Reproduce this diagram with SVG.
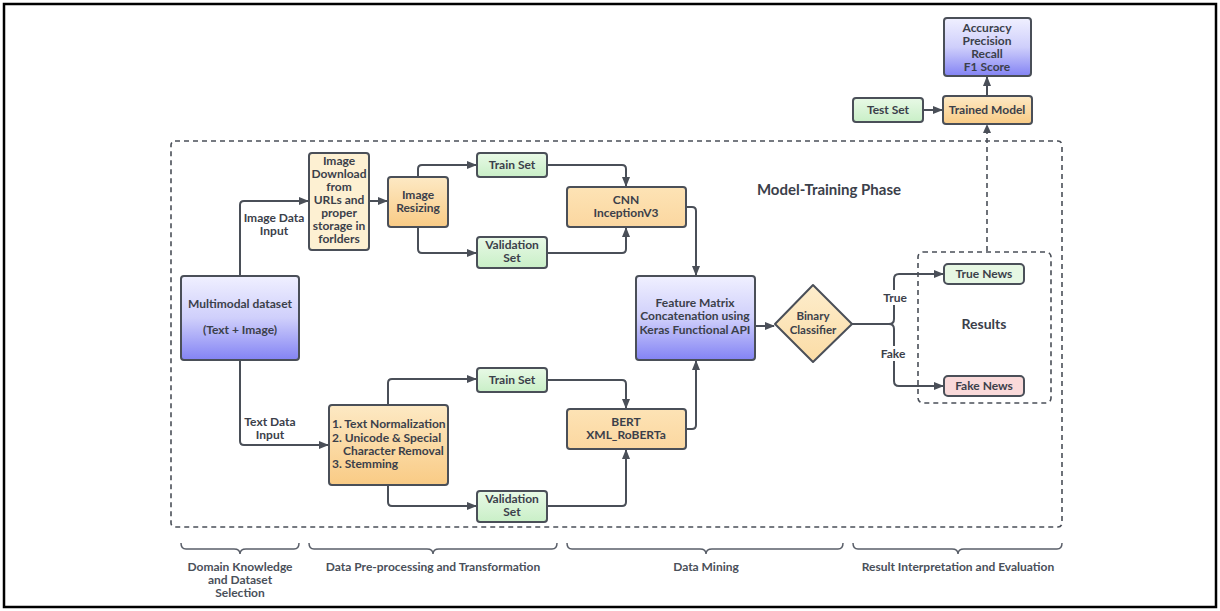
<svg xmlns="http://www.w3.org/2000/svg" width="1220" height="611" viewBox="0 0 1220 611">
<defs>
<style>
text{font-family:Lato,"Liberation Sans",sans-serif;font-weight:bold;font-size:12px;fill:#3b404a;text-anchor:middle}
.box{stroke:#4a4f58;stroke-width:2}
.ln{fill:none;stroke:#4a4f58;stroke-width:2}
.dash{fill:none;stroke:#4a4f58;stroke-width:1.6;stroke-dasharray:5 4}
.brace{fill:none;stroke:#5a5f69;stroke-width:1.5}
.lbl{fill:#4a505a}
</style>
<marker id="ah" viewBox="0 0 10 10" refX="9" refY="5" markerWidth="5" markerHeight="5" orient="auto" markerUnits="strokeWidth">
<path d="M0,1 L10,5 L0,9 z" fill="#4a4f58"/>
</marker>
<linearGradient id="gPurple" x1="0" y1="0" x2="0" y2="1"><stop offset="0" stop-color="#f0f0ff"/><stop offset="0.5" stop-color="#cfcffb"/><stop offset="1" stop-color="#8383f4"/></linearGradient>
<linearGradient id="gOrange" x1="0" y1="0" x2="0" y2="1"><stop offset="0" stop-color="#fde9c4"/><stop offset="1" stop-color="#f9cb85"/></linearGradient>
<linearGradient id="gOrange2" x1="0" y1="0" x2="0" y2="1"><stop offset="0" stop-color="#fde3b5"/><stop offset="1" stop-color="#fbd7a0"/></linearGradient>
<linearGradient id="gGreen" x1="0" y1="0" x2="0" y2="1"><stop offset="0" stop-color="#e8f9e6"/><stop offset="1" stop-color="#c9efc7"/></linearGradient>
<linearGradient id="gDiamond" x1="0" y1="0" x2="0" y2="1"><stop offset="0" stop-color="#fdedcc"/><stop offset="1" stop-color="#fbdca6"/></linearGradient>
</defs>
<rect x="0" y="0" width="1220" height="611" fill="#ffffff"/>
<rect x="4" y="4" width="1212" height="603" fill="none" stroke="#000" stroke-width="2.5"/>

<!-- phase frame -->
<rect x="171" y="141" width="891" height="386" rx="4" class="dash"/>
<text x="829" y="195" style="font-size:15px">Model-Training Phase</text>

<!-- results frame -->
<rect x="918" y="252" width="133" height="151" rx="5" class="dash"/>

<g id="connectors">
<path class="ln" d="M240,276 V205 Q240,201 244,201 H308" marker-end="url(#ah)"/>
<path class="ln" d="M369,201 H387" marker-end="url(#ah)"/>
<path class="ln" d="M418,177 V169 Q418,165 422,165 H476" marker-end="url(#ah)"/>
<path class="ln" d="M418,227 V249 Q418,253 422,253 H476" marker-end="url(#ah)"/>
<path class="ln" d="M547,165 H622 Q626,165 626,169 V186" marker-end="url(#ah)"/>
<path class="ln" d="M547,253 H622 Q626,253 626,249 V228" marker-end="url(#ah)"/>
<path class="ln" d="M686,207 H692 Q696,207 696,211 V275" marker-end="url(#ah)"/>
<path class="ln" d="M240,360 V441 Q240,445 244,445 H328" marker-end="url(#ah)"/>
<path class="ln" d="M388,405 V383 Q388,379 392,379 H476" marker-end="url(#ah)"/>
<path class="ln" d="M388,485 V502 Q388,506 392,506 H476" marker-end="url(#ah)"/>
<path class="ln" d="M547,380 H622 Q626,380 626,384 V408" marker-end="url(#ah)"/>
<path class="ln" d="M547,506 H622 Q626,506 626,502 V450" marker-end="url(#ah)"/>
<path class="ln" d="M686,429 H692 Q696,429 696,425 V361" marker-end="url(#ah)"/>
<path class="ln" d="M755,326 H774" marker-end="url(#ah)"/>
<path class="ln" d="M852,324 H889 Q894,324 894,319 V279 Q894,274 899,274 H943" marker-end="url(#ah)"/>
<path class="ln" d="M889,324 Q894,324 894,329 V381 Q894,386 899,386 H943" marker-end="url(#ah)"/>
<path class="ln" d="M923,110 H942" marker-end="url(#ah)"/>
<path class="ln" d="M987,96 V77" marker-end="url(#ah)"/>
<path class="dash" d="M987,251 V127"/>
<path d="M983,133 L987,124 L991,133 z" fill="#4a4f58"/>
<rect x="880" y="290" width="30" height="15" fill="#fff"/>
<text x="895" y="302">True</text>
<rect x="878" y="346" width="32" height="15" fill="#fff"/>
<text x="893" y="358">Fake</text>
<text x="274" y="222">Image Data</text>
<text x="274" y="235">Input</text>
<text x="270" y="426">Text Data</text>
<text x="270" y="439">Input</text>
</g>

<g id="n-multimodal">
<rect x="181" y="276" width="118" height="84" rx="3" class="box" fill="url(#gPurple)"/>
<text x="240" y="308">Multimodal dataset</text>
<text x="240" y="334">(Text + Image)</text>
</g>
<g id="n-download">
<rect x="309" y="153" width="60" height="97" rx="3" class="box" fill="#fdf0d2"/>
<text x="339" y="165">Image</text>
<text x="339" y="178">Download</text>
<text x="339" y="191">from</text>
<text x="339" y="204">URLs and</text>
<text x="339" y="217">proper</text>
<text x="339" y="230">storage in</text>
<text x="339" y="243">forlders</text>
</g>
<g id="n-resize">
<rect x="388" y="177" width="60" height="50" rx="3" class="box" fill="url(#gOrange)"/>
<text x="418" y="199">Image</text>
<text x="418" y="212">Resizing</text>
</g>
<g id="n-train1">
<rect x="477" y="153" width="70" height="24" rx="3" class="box" fill="url(#gGreen)"/>
<text x="512" y="169">Train Set</text>
</g>
<g id="n-val1">
<rect x="477" y="237" width="70" height="31" rx="3" class="box" fill="url(#gGreen)"/>
<text x="512" y="249">Validation</text>
<text x="512" y="262">Set</text>
</g>
<g id="n-cnn">
<rect x="567" y="187" width="119" height="40" rx="3" class="box" fill="url(#gOrange2)"/>
<text x="626" y="204">CNN</text>
<text x="626" y="217">InceptionV3</text>
</g>
<g id="n-textproc">
<rect x="329" y="405" width="119" height="80" rx="3" class="box" fill="url(#gOrange)"/>
<text x="332" y="428" style="text-anchor:start">1. Text Normalization</text>
<text x="332" y="442" style="text-anchor:start">2. Unicode &amp; Special</text>
<text x="343" y="455" style="text-anchor:start">Character Removal</text>
<text x="332" y="468" style="text-anchor:start">3. Stemming</text>
</g>
<g id="n-train2">
<rect x="477" y="368" width="70" height="24" rx="3" class="box" fill="url(#gGreen)"/>
<text x="512" y="384">Train Set</text>
</g>
<g id="n-val2">
<rect x="477" y="491" width="70" height="31" rx="3" class="box" fill="url(#gGreen)"/>
<text x="512" y="503">Validation</text>
<text x="512" y="516">Set</text>
</g>
<g id="n-bert">
<rect x="567" y="409" width="119" height="40" rx="3" class="box" fill="url(#gOrange2)"/>
<text x="626" y="426">BERT</text>
<text x="626" y="439">XML_RoBERTa</text>
</g>
<g id="n-feature">
<rect x="636" y="276" width="119" height="84" rx="3" class="box" fill="url(#gPurple)"/>
<text x="695" y="307">Feature Matrix</text>
<text x="695" y="320">Concatenation using</text>
<text x="695" y="334">Keras Functional API</text>
</g>
<g id="n-binary">
<path d="M813,285 L852,324 L813,362 L775,324 z" class="box" fill="url(#gDiamond)" stroke-linejoin="round"/>
<text x="813" y="320" style="font-size:11.5px">Binary</text>
<text x="813" y="334" style="font-size:11.5px">Classifier</text>
</g>
<g id="n-true">
<rect x="944" y="264" width="80" height="20" rx="4" class="box" fill="#e6f7e3"/>
<text x="984" y="278">True News</text>
</g>
<g id="n-fake">
<rect x="944" y="376" width="80" height="20" rx="4" class="box" fill="#f9d9d9"/>
<text x="984" y="390">Fake News</text>
</g>
<g id="n-results">
<text x="984" y="329" style="font-size:14px">Results</text>
</g>
<g id="n-testset">
<rect x="853" y="98" width="70" height="24" rx="3" class="box" fill="url(#gGreen)"/>
<text x="888" y="114">Test Set</text>
</g>
<g id="n-trained">
<rect x="943" y="96" width="89" height="28" rx="3" class="box" fill="url(#gOrange)"/>
<text x="987" y="114">Trained Model</text>
</g>
<g id="n-metrics">
<rect x="944" y="18" width="87" height="58" rx="3" class="box" fill="url(#gPurple)"/>
<text x="987" y="32">Accuracy</text>
<text x="987" y="45">Precision</text>
<text x="987" y="58">Recall</text>
<text x="987" y="71">F1 Score</text>
</g>

<g id="phases">
<path class="brace" d="M181,543 Q181,549 186,549 H234 Q240,549 240,554 Q240,549 246,549 H294 Q299,549 299,543"/>
<path class="brace" d="M309,543 Q309,549 314,549 H427 Q433,549 433,554 Q433,549 439,549 H552 Q557,549 557,543"/>
<path class="brace" d="M567,543 Q567,549 572,549 H700 Q706,549 706,554 Q706,549 712,549 H838 Q843,549 843,543"/>
<path class="brace" d="M853,543 Q853,549 858,549 H952 Q958,549 958,554 Q958,549 964,549 H1057 Q1062,549 1062,543"/>
<text class="lbl" x="240" y="571">Domain Knowledge</text>
<text class="lbl" x="240" y="584">and Dataset</text>
<text class="lbl" x="240" y="597">Selection</text>
<text class="lbl" x="433" y="571">Data Pre-processing and Transformation</text>
<text class="lbl" x="706" y="571">Data Mining</text>
<text class="lbl" x="958" y="571">Result Interpretation and Evaluation</text>
</g>
</svg>
